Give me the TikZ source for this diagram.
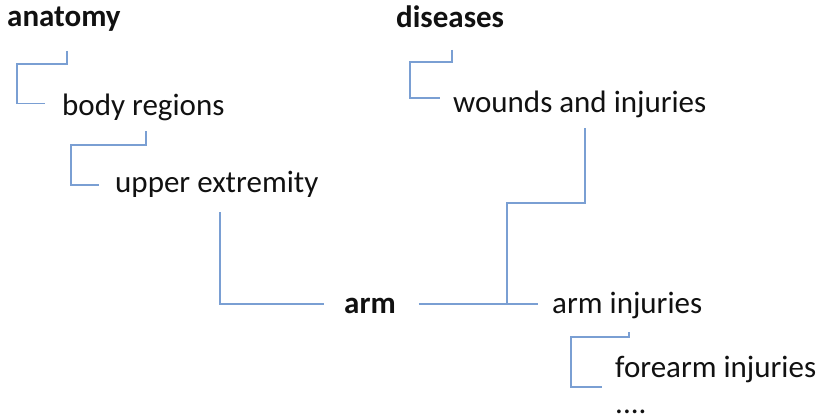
\documentclass[tikz,border=0pt]{standalone}
\usepackage{fontspec}
\setmainfont{Carlito}
\definecolor{linkblue}{HTML}{7A9FD3}
\definecolor{txt}{HTML}{111111}
\begin{document}
\begin{tikzpicture}[x=1pt,y=-1pt,
  term/.style={anchor=base west,inner sep=0pt,text=txt,font=\fontsize{31}{37}\selectfont},
  headterm/.style={term,font=\fontsize{31}{37}\selectfont\bfseries},
  conn/.style={draw=linkblue,line width=1.3pt}]
\useasboundingbox[fill=white] (0,0) rectangle (824,420);
% nodes (placed at their baselines)
\node[headterm] (anatomy) at (7,27) {anatomy};
\node[term] (body) at (62,115) {body regions};
\node[term] (upper) at (115,192) {upper extremity};
\node[headterm] (arm) at (344,313) {arm};
\node[headterm] (diseases) at (396,28) {diseases};
\node[term] (wounds) at (453,112) {wounds and injuries};
\node[term] (arminj) at (552,313) {arm injuries};
\node[term] (forearm) at (615,377) {forearm injuries};
\node[term] (dots) at (615,413) {....};
% start points of connectors
\coordinate (s1) at (67,51);
\coordinate (s2) at (146,131);
\coordinate (s3) at (220,212);
\coordinate (s4) at (452,50);
\coordinate (s5) at (585,128);
\coordinate (s6) at (629,332);
% connectors
\draw[conn] (s1) |- (17,64) |- ([xshift=-17pt,yshift=11.5pt]body.base west);
\draw[conn] (s2) |- (71,145) |- ([xshift=-16pt,yshift=7pt]upper.base west);
\draw[conn] (s3) |- ([xshift=-20pt,yshift=9pt]arm.base west);
\draw[conn] ([xshift=23pt,yshift=9pt]arm.base east) -- ([xshift=-14pt,yshift=9pt]arminj.base west);
\draw[conn] (s4) |- (410,62) |- ([xshift=-13pt,yshift=14pt]wounds.base west);
\draw[conn] (s5) |- (507,203) |- ([xshift=-14pt,yshift=9pt]arminj.base west);
\draw[conn] (s6) |- (571,337) |- ([xshift=-13pt,yshift=-10pt]forearm.base west);
\end{tikzpicture}
\end{document}
